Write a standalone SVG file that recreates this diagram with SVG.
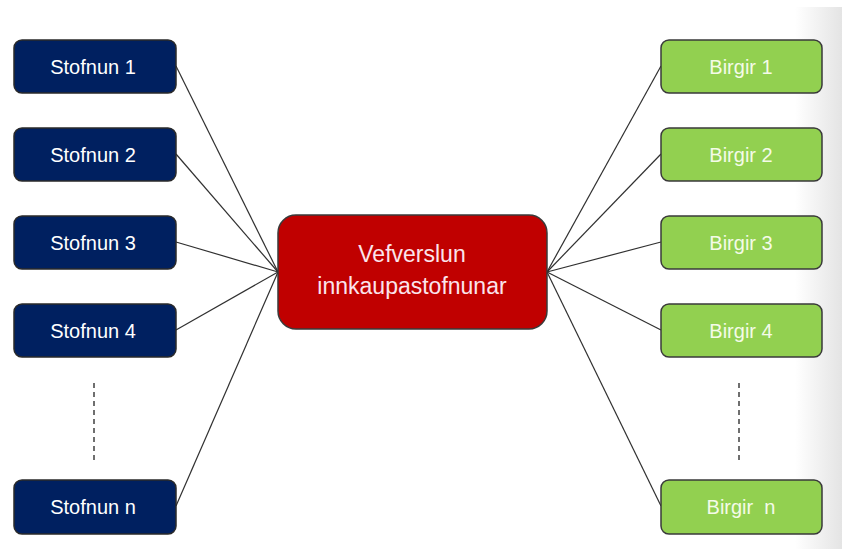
<svg xmlns="http://www.w3.org/2000/svg" width="846" height="558" viewBox="0 0 846 558">
<defs>
<linearGradient id="edge" x1="0" y1="0" x2="1" y2="0">
<stop offset="0" stop-color="#ffffff"/>
<stop offset="1" stop-color="#e4e4e4"/>
</linearGradient>
<style>
.org rect{fill:#002060;stroke:#2a2a2a;stroke-width:1.5}
.sup rect{fill:#92D050;stroke:#3a3a3a;stroke-width:1.5}
.hub rect{fill:#C00000;stroke:#3a3a3a;stroke-width:1.5}
text{font-family:"Liberation Sans",Arial,sans-serif;text-anchor:middle}
.org text{fill:#ffffff;font-size:20px}
.sup text{fill:#f4fbe8;font-size:20px}
.hub text{fill:#fbe4ec;font-size:23px}
.conn line{stroke:#303030;stroke-width:1.2}
.dots line{stroke:#404040;stroke-width:1.5;stroke-dasharray:5,4}
</style>
</defs>
<rect x="0" y="0" width="846" height="558" fill="#ffffff"/>
<rect x="795" y="7" width="47" height="542" fill="url(#edge)"/>
<g id="connectors" class="conn">
<line x1="176" y1="66" x2="278" y2="272"/>
<line x1="176" y1="154" x2="278" y2="272"/>
<line x1="176" y1="242" x2="278" y2="272"/>
<line x1="176" y1="330" x2="278" y2="272"/>
<line x1="176" y1="506" x2="278" y2="272"/>
<line x1="547" y1="272" x2="661" y2="66"/>
<line x1="547" y1="272" x2="661" y2="154"/>
<line x1="547" y1="272" x2="661" y2="242"/>
<line x1="547" y1="272" x2="661" y2="330"/>
<line x1="547" y1="272" x2="661" y2="506"/>
</g>
<g id="ellipsis" class="dots">
<line x1="94" y1="383" x2="94" y2="462"/>
<line x1="739" y1="383" x2="739" y2="462"/>
</g>
<g id="stofnun1" class="org"><rect x="14" y="40" width="162" height="53" rx="8"/><text x="93" y="74">Stofnun 1</text></g>
<g id="stofnun2" class="org"><rect x="14" y="128" width="162" height="53" rx="8"/><text x="93" y="162">Stofnun 2</text></g>
<g id="stofnun3" class="org"><rect x="14" y="216" width="162" height="53" rx="8"/><text x="93" y="250">Stofnun 3</text></g>
<g id="stofnun4" class="org"><rect x="14" y="304" width="162" height="53" rx="8"/><text x="93" y="338">Stofnun 4</text></g>
<g id="stofnunn" class="org"><rect x="14" y="480" width="162" height="54" rx="8"/><text x="93" y="514">Stofnun  n</text></g>
<g id="hub" class="hub"><rect x="278" y="215" width="269" height="114" rx="18"/><text x="412" y="262">Vefverslun</text><text x="412" y="294">innkaupastofnunar</text></g>
<g id="birgir1" class="sup"><rect x="661" y="40" width="161" height="53" rx="8"/><text x="741" y="74">Birgir 1</text></g>
<g id="birgir2" class="sup"><rect x="661" y="128" width="161" height="53" rx="8"/><text x="741" y="162">Birgir 2</text></g>
<g id="birgir3" class="sup"><rect x="661" y="216" width="161" height="53" rx="8"/><text x="741" y="250">Birgir 3</text></g>
<g id="birgir4" class="sup"><rect x="661" y="304" width="161" height="53" rx="8"/><text x="741" y="338">Birgir 4</text></g>
<g id="birgirn" class="sup"><rect x="661" y="480" width="161" height="54" rx="8"/><text x="741" y="514" xml:space="preserve">Birgir  n</text></g>
</svg>
